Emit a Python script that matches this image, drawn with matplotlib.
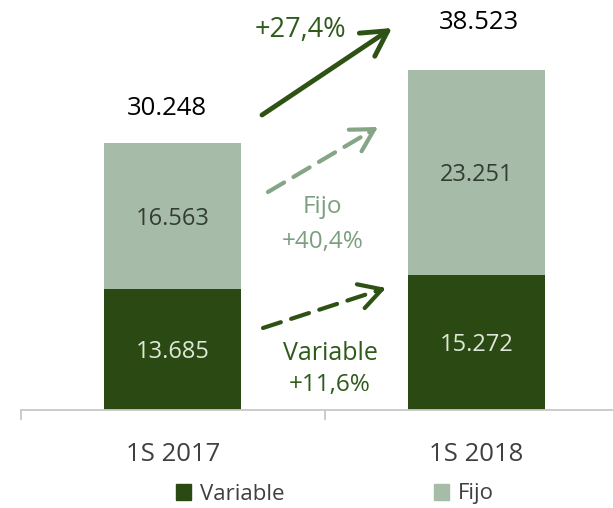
import matplotlib
matplotlib.use("Agg")
import matplotlib.pyplot as plt
from matplotlib.patches import Patch

plt.rcParams['font.family'] = ['Open Sans', 'DejaVu Sans']

categories = ['1S 2017', '1S 2018']
variable = [13685, 15272]
fijo = [16563, 23251]
totals = [30248, 38523]
labels_variable = ['13.685', '15.272']
labels_fijo = ['16.563', '23.251']
labels_total = ['30.248', '38.523']

dark = '#2b4a13'
light = '#a7bca8'
dark_txt = '#2e5a1a'
light_txt = '#7b9f7f'

W, H = 613, 508
fig = plt.figure(figsize=(W / 100, H / 100), dpi=100)
ax = fig.add_axes([21 / W, (H - 410) / H, 592 / W, 410 / H])


def px(x, y):
    # image pixel (from top-left) -> figure fraction
    return (x / W, 1 - y / H)


x = [0, 1]
width = 0.45
ax.bar(x, variable, width, color=dark, label='Variable')
ax.bar(x, fijo, width, bottom=variable, color=light, label='Fijo')

total_offsets = [(-4, 25), (2, 34)]
for i in range(2):
    ax.text(x[i], variable[i] / 2 - 300, labels_variable[i], ha='center', va='center',
            fontsize=17, color='#dfe8d8')
    ax.text(x[i], variable[i] + fijo[i] / 2 - 300, labels_fijo[i], ha='center', va='center',
            fontsize=17, color='#333d33')
    ax.annotate(labels_total[i], (x[i], totals[i]), xytext=total_offsets[i],
                textcoords='offset points', ha='center', va='center', fontsize=18.5,
                color='black')

ax.set_xlim(-0.5, 1.45)
ax.set_ylim(0, 46450)
for s in ['top', 'right', 'left']:
    ax.spines[s].set_visible(False)
ax.spines['bottom'].set_color('#c8c8c8')
ax.spines['bottom'].set_linewidth(1.3)
ax.set_yticks([])
ax.set_xticks(x, categories, fontsize=18.5, color='#404040')
ax.tick_params(axis='x', which='major', length=0, pad=23)
ax.set_xticks([-0.5, 0.5], minor=True)
ax.tick_params(axis='x', which='minor', length=7, width=1.3, color='#c8c8c8')

# total growth arrow
ax.annotate('', xy=px(392, 28), xytext=px(262, 115), xycoords='figure fraction',
            textcoords='figure fraction',
            arrowprops=dict(arrowstyle='->,head_length=0.9,head_width=0.5', lw=3.5,
                            color='#2e5214', mutation_scale=20, shrinkA=0, shrinkB=0))
fig.text(*px(300, 30), '+27,4%', ha='center', va='center', fontsize=19.5, color=dark_txt)


def dashed_arrow(p0, p1, color):
    ax.annotate('', xy=px(*p1), xytext=px(*p0), xycoords='figure fraction',
                textcoords='figure fraction',
                arrowprops=dict(arrowstyle='-', lw=3, color=color, linestyle=(0, (4.5, 2.6)),
                                shrinkA=0, shrinkB=3))
    fx = p1[0] - (p1[0] - p0[0]) * 0.08
    fy = p1[1] - (p1[1] - p0[1]) * 0.08
    ax.annotate('', xy=px(*p1), xytext=px(fx, fy), xycoords='figure fraction',
                textcoords='figure fraction',
                arrowprops=dict(arrowstyle='->,head_length=0.8,head_width=0.45', lw=3,
                                color=color, mutation_scale=20, shrinkA=0, shrinkB=0))


dashed_arrow((268, 192), (378, 127), '#86a486')
dashed_arrow((263, 328), (386, 288), '#2e5214')

fig.text(*px(322, 207), 'Fijo', ha='center', va='center', fontsize=17.5, color=light_txt)
fig.text(*px(323, 242), '+40,4%', ha='center', va='center', fontsize=17.5, color=light_txt)
fig.text(*px(330, 353), 'Variable', ha='center', va='center', fontsize=18, color=dark_txt)
fig.text(*px(330, 385), '+11,6%', ha='center', va='center', fontsize=17.5, color=dark_txt)

handles = [Patch(color=dark, label='Variable'), Patch(color=light, label='Fijo')]
fig.legend(handles=handles, loc='center', bbox_to_anchor=px(335, 494), ncol=2, frameon=False,
           fontsize=16, handlelength=0.7, handleheight=0.7, handletextpad=0.4,
           columnspacing=6.7, labelcolor='#404040', borderpad=0.2)

fig.savefig('out.png', dpi=100)
